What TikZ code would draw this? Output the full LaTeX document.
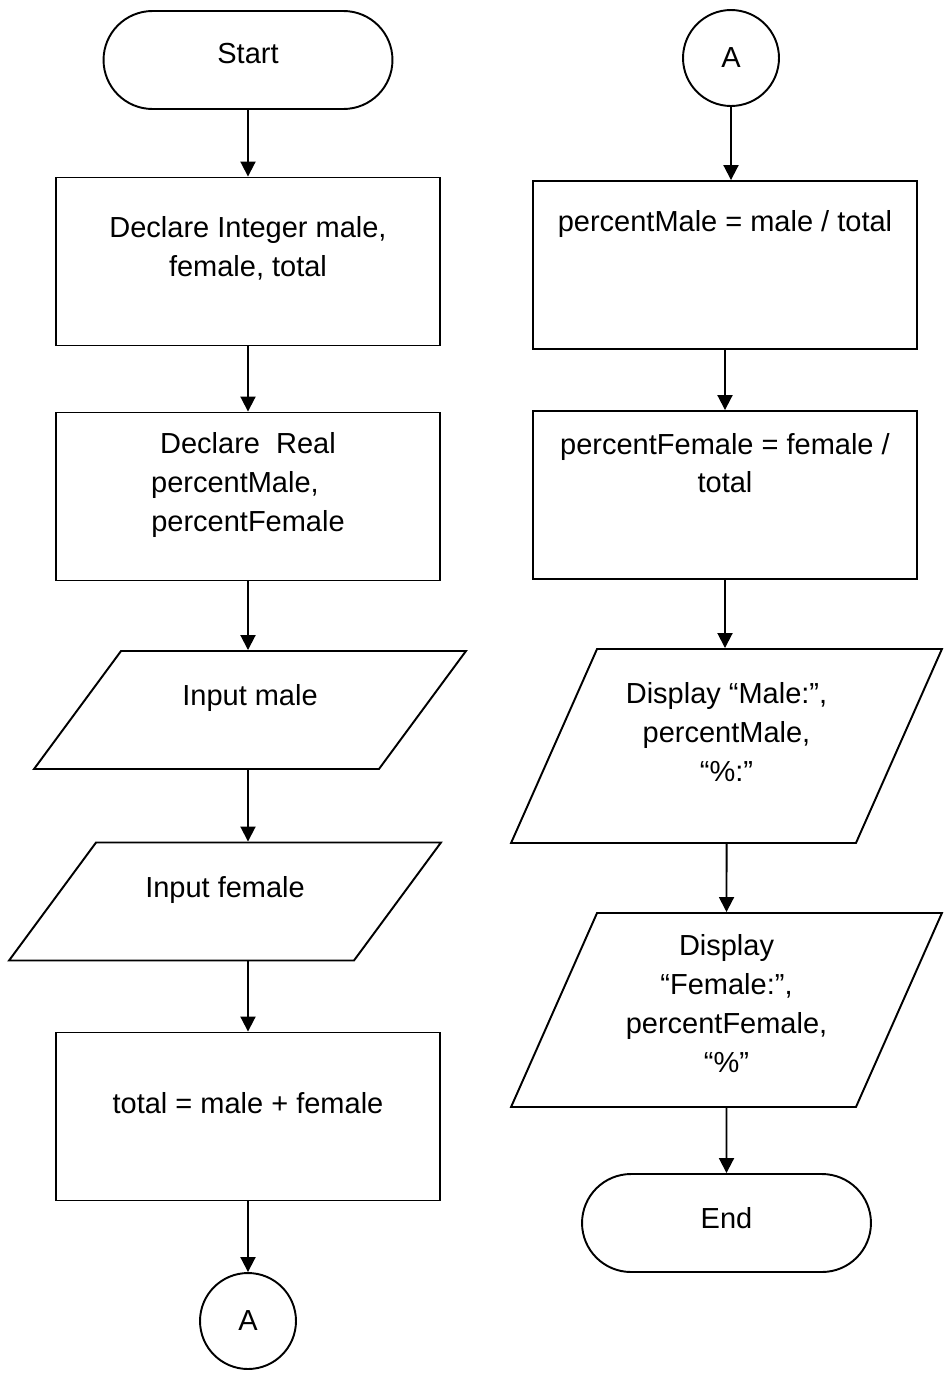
\documentclass[tikz,border=0pt]{standalone}
\usepackage{fontspec}
\setmainfont{Liberation Sans}
\usetikzlibrary{shapes.geometric,shapes.misc,arrows.meta}

\begin{document}
\begin{tikzpicture}[x=0.02cm,y=-0.02cm,
    every node/.style={line width=1.1pt},
    txt/.style={font=\fontsize{16.5}{22.1}\selectfont,align=center,inner sep=0pt},
    every label/.style={txt},
    term/.style={draw,rounded rectangle,minimum width=5.78cm,minimum height=1.96cm,inner sep=0pt},
    proc/.style={draw,rectangle,minimum width=7.68cm,minimum height=3.36cm,inner sep=0pt},
    io/.style 2 args={draw,trapezium,trapezium left angle=#1,trapezium right angle=#2,
      text depth=0pt,inner sep=0pt},
    conn/.style={draw,circle,minimum size=1.92cm,inner sep=0pt,txt},
    flow/.style={line width=1.1pt,-{Triangle[length=0.3cm,width=0.3cm]}}]
  \useasboundingbox (0,0) rectangle (948,1373);

  % left column
  \node[term,label={[below=0.64cm]north:Start}] (start) at (248,60) {};
  \node[proc,label={[below=0.78cm]north:{Declare Integer male,\\ female, total}}] (dec1) at (248,261.5) {};
  \node[proc,label={[below=0.40cm]north:{Declare\ \ Real\\ percentMale,\rule{0.9em}{0pt}\\ percentFemale}}] (dec2) at (248,496.5) {};
  \node[io={53.6}{126.4},text width=5.16cm,text height=2.36cm,label={[below=0.68cm]north:Input male}] (inm) at (250,710) {};
  \node[io={53.6}{126.4},text width=5.16cm,text height=2.36cm,label={[below=0.68cm]north:Input female}] (inf) at (225,901.5) {};
  \node[proc,label={[below=1.20cm]north:total = male + female}] (tot) at (248,1116.5) {};
  \node[conn] (ca) at (248,1321) {A};

  % right column
  \node[conn] (cb) at (731,58) {A};
  \node[proc,label={[below=0.58cm]north:percentMale = male / total}] (pm) at (725,265) {};
  \node[proc,label={[below=0.44cm]north:{percentFemale = female /\\ total}}] (pf) at (725,495) {};
  \node[io={66.1}{113.9},text width=5.18cm,text height=3.88cm,label={[below=0.68cm]north:{Display “Male:”,\\ percentMale,\\ “\%:”}}] (dm) at (726.5,746) {};
  \node[io={66.1}{113.9},text width=5.18cm,text height=3.88cm,label={[below=0.44cm]north:{Display\\ “Female:”,\\ percentFemale,\\ “\%”}}] (df) at (726.5,1010) {};
  \node[term,label={[below=0.66cm]north:End}] (stop) at (726.5,1223) {};

  \draw[flow] (start) -- (dec1);
  \draw[flow] (dec1) -- (dec2);
  \draw[flow] (dec2) -- (dec2 |- inm.north);
  \draw[flow] (inm.south -| dec2) -- (inf.north -| dec2);
  \draw[flow] (inf.south -| dec2) -- (tot);
  \draw[flow] (tot) -- (ca);

  \draw[flow] (cb) -- (cb |- pm.north);
  \draw[flow] (pm) -- (pf);
  \draw[flow] (pf) -- (pf |- dm.north);
  \draw[flow] (dm) -- (df);
  \draw[flow] (df) -- (stop);
\end{tikzpicture}
\end{document}
